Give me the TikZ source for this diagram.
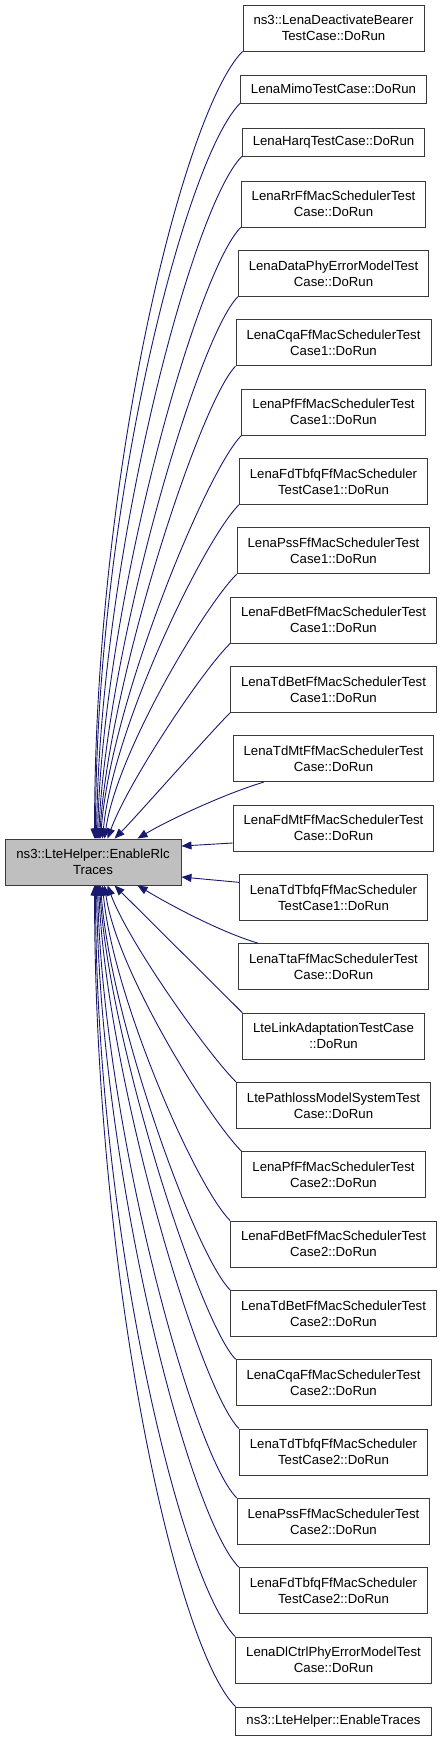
\documentclass[tikz,border=0pt]{standalone}
\usepackage{fontspec}
\setmainfont{Liberation Sans}
\usetikzlibrary{arrows.meta,calc}
\definecolor{edgecol}{HTML}{191970}
\definecolor{boxline}{HTML}{3A3A3A}
\definecolor{leftfill}{HTML}{BFBFBF}
\tikzset{
  box/.style={draw=boxline, line width=0.9pt, fill=white, align=center,
    font=\fontsize{13.2}{16}\selectfont, inner xsep=10.5pt, inner ysep=0pt,
    minimum height=46pt},
  onebox/.style={box, minimum height=28pt},
  edge/.style={draw=edgecol, line width=0.9pt, -{Triangle[length=10pt,width=8pt]}}
}
\begin{document}
\begin{tikzpicture}[x=1pt,y=-1pt]
\path[use as bounding box] (0,0) rectangle (443,1741);
\node[box, fill=leftfill, minimum width=176pt] (L) at (93,862) {ns3::LteHelper::EnableRlc\\Traces};
\node[box] (b1) at (333.5,28) {ns3::LenaDeactivateBearer\\TestCase::DoRun};
\node[onebox] (b2) at (333.5,89) {LenaMimoTestCase::DoRun};
\node[onebox] (b3) at (333.5,142) {LenaHarqTestCase::DoRun};
\node[box] (b4) at (333.5,204) {LenaRrFfMacSchedulerTest\\Case::DoRun};
\node[box] (b5) at (333.5,273.33) {LenaDataPhyErrorModelTest\\Case::DoRun};
\node[box] (b6) at (333.5,342.67) {LenaCqaFfMacSchedulerTest\\Case1::DoRun};
\node[box] (b7) at (333.5,412) {LenaPfFfMacSchedulerTest\\Case1::DoRun};
\node[box] (b8) at (333.5,481.33) {LenaFdTbfqFfMacScheduler\\TestCase1::DoRun};
\node[box] (b9) at (333.5,550.67) {LenaPssFfMacSchedulerTest\\Case1::DoRun};
\node[box] (b10) at (333.5,620) {LenaFdBetFfMacSchedulerTest\\Case1::DoRun};
\node[box] (b11) at (333.5,689.33) {LenaTdBetFfMacSchedulerTest\\Case1::DoRun};
\node[box] (b12) at (333.5,758.67) {LenaTdMtFfMacSchedulerTest\\Case::DoRun};
\node[box] (b13) at (333.5,828) {LenaFdMtFfMacSchedulerTest\\Case::DoRun};
\node[box] (b14) at (333.5,897.33) {LenaTdTbfqFfMacScheduler\\TestCase1::DoRun};
\node[box] (b15) at (333.5,966.67) {LenaTtaFfMacSchedulerTest\\Case::DoRun};
\node[box] (b16) at (333.5,1036) {LteLinkAdaptationTestCase\\::DoRun};
\node[box] (b17) at (333.5,1105.33) {LtePathlossModelSystemTest\\Case::DoRun};
\node[box] (b18) at (333.5,1174.67) {LenaPfFfMacSchedulerTest\\Case2::DoRun};
\node[box] (b19) at (333.5,1244) {LenaFdBetFfMacSchedulerTest\\Case2::DoRun};
\node[box] (b20) at (333.5,1313.33) {LenaTdBetFfMacSchedulerTest\\Case2::DoRun};
\node[box] (b21) at (333.5,1382.67) {LenaCqaFfMacSchedulerTest\\Case2::DoRun};
\node[box] (b22) at (333.5,1452) {LenaTdTbfqFfMacScheduler\\TestCase2::DoRun};
\node[box] (b23) at (333.5,1521.33) {LenaPssFfMacSchedulerTest\\Case2::DoRun};
\node[box] (b24) at (333.5,1590.67) {LenaFdTbfqFfMacScheduler\\TestCase2::DoRun};
\node[box] (b25) at (333.5,1660) {LenaDlCtrlPhyErrorModelTest\\Case::DoRun};
\node[onebox] (b26) at (333.5,1721) {ns3::LteHelper::EnableTraces};
% upper fan
\foreach \k/\dx/\p/\q/\h in {1/90/58/0/370, 2/91/55/0/330, 3/92/50/3/280, 4/93/45/5/230,
    5/94/40/8/190, 6/95/35/10/160, 7/96/35/10/135, 8/98/35/10/110, 9/100/33/12/85,
    10/103/30/20/55, 11/110/20/20/20}
  \draw[edge] (b\k.south west) .. controls +(-\p,\p) and +(\q,-\h) .. ($(L.north west)+(\dx,0)$);
% lower fan
\foreach \k/\dx/\p/\q/\h in {16/110/20/20/20, 17/103/30/20/55, 18/100/33/12/85, 19/98/35/10/110,
    20/96/35/10/135, 21/95/35/10/160, 22/94/40/8/190, 23/93/45/5/235, 24/92/50/3/285,
    25/91/55/0/340, 26/90/60/0/390}
  \draw[edge] (b\k.north west) .. controls +(-\p,-\p) and +(\q,\h) .. ($(L.south west)+(\dx,0)$);
\draw[edge] ($(b12.south west)+(31,0)$) .. controls +(-40,12) and +(30,-18) .. ($(L.north west)+(133,0)$);
\draw[edge] ($(b15.north west)+(20,0)$) .. controls +(-40,-12) and +(30,18) .. ($(L.south west)+(133,0)$);
\draw[edge] ($(b13.west)+(0,15)$) -- ($(L.east)+(0,-16)$);
\draw[edge] ($(b14.west)+(0,-15)$) -- ($(L.east)+(0,15)$);
\end{tikzpicture}
\end{document}
